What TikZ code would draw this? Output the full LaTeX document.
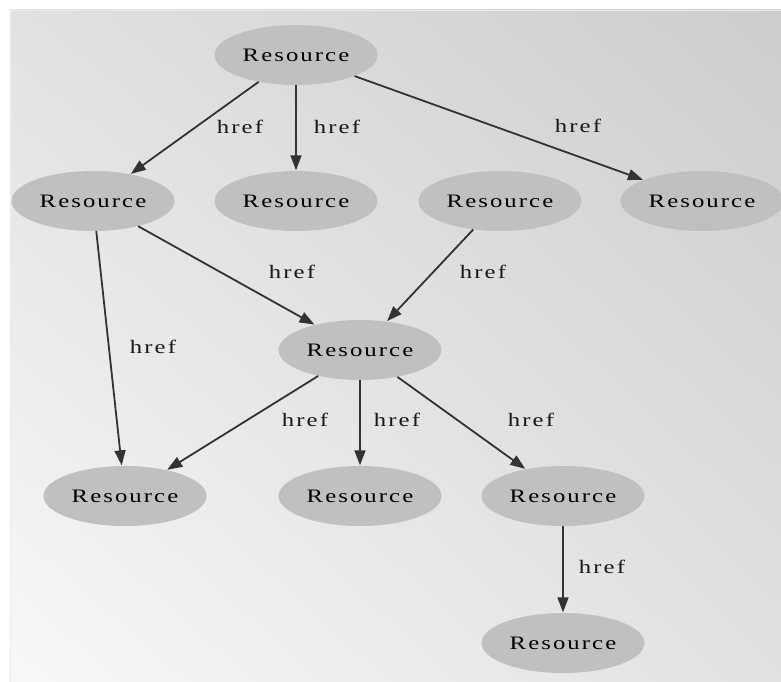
\documentclass[tikz,border=0pt]{standalone}
\usepackage{fontspec}
\setmainfont{Liberation Serif}[FakeStretch=1.3,LetterSpace=11]
\usetikzlibrary{shapes.geometric,arrows.meta,shadings}
\definecolor{nodefill}{HTML}{C0C0C0}
\definecolor{edgecol}{HTML}{333333}
\definecolor{bgdark}{HTML}{CDCDCD}
\definecolor{bgmid}{HTML}{E1E1E1}
\definecolor{bglight}{HTML}{F8F8F8}
\tikzset{
  res/.style={ellipse, fill=nodefill, draw=none, minimum width=163pt, minimum height=60pt,
    inner sep=0pt, font=\fontsize{19}{19}\selectfont, text=black},
  lbl/.style={inner sep=0pt, font=\fontsize{19}{19}\selectfont, text=black!90},
  link/.style={draw=edgecol, line width=1.8pt, -{Triangle[length=15pt,width=11pt]}, shorten >=0.5pt},
}
\begin{document}
\begin{tikzpicture}[x=1pt,y=-1pt]
  \useasboundingbox (0,0) rectangle (781,682);
  \fill[white] (0,0) rectangle (781,682);
  % shaded panel
  \shade[upper left=bgmid, upper right=bgdark, lower left=bglight, lower right=bgmid]
    (10,10) rectangle (781,682);
  \draw[white!92!black, line width=0.6pt] (10.3,682) -- (10.3,10.3) -- (781,10.3);

  % resources
  \node[res] (A) at (296,55)  {Resource};
  \node[res] (B) at (93,201)  {Resource};
  \node[res] (C) at (296,201) {Resource};
  \node[res] (D) at (500,201) {Resource};
  \node[res] (E) at (702,201) {Resource};
  \node[res] (F) at (360,350) {Resource};
  \node[res] (G) at (125,496) {Resource};
  \node[res] (H) at (360,496) {Resource};
  \node[res] (I) at (563,496) {Resource};
  \node[res] (J) at (563,643) {Resource};

  % links
  \draw[link] (A) -- (B);
  \draw[link] (A) -- (C);
  \draw[link] (A) -- (E);
  \draw[link] (B) -- (G);
  \draw[link] (B) -- (F);
  \draw[link] (D) -- (F);
  \draw[link] (F) -- (G);
  \draw[link] (F) -- (H);
  \draw[link] (F) -- (I);
  \draw[link] (I) -- (J);

  % link labels
  \node[lbl] (lAB) at (240,127) {href};
  \node[lbl] (lAC) at (337,127) {href};
  \node[lbl] (lAE) at (578,126) {href};
  \node[lbl] (lBG) at (153,347) {href};
  \node[lbl] (lBF) at (292,272) {href};
  \node[lbl] (lDF) at (483,272) {href};
  \node[lbl] (lFG) at (305,420) {href};
  \node[lbl] (lFH) at (397,420) {href};
  \node[lbl] (lFI) at (531,420) {href};
  \node[lbl] (lIJ) at (602,567) {href};
\end{tikzpicture}
\end{document}
